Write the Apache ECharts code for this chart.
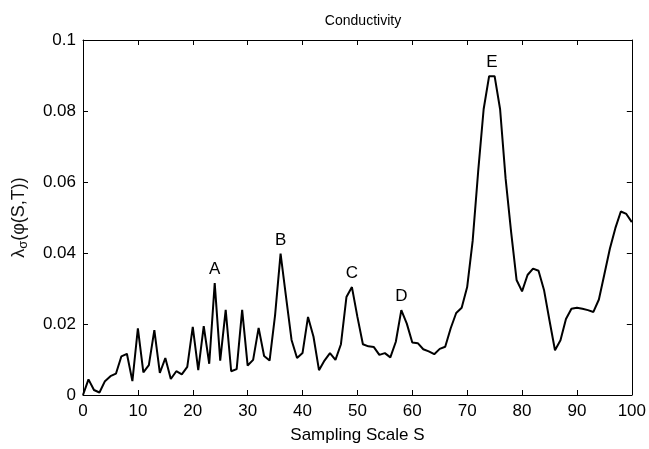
<!DOCTYPE html>
<html>
<head>
<meta charset="utf-8">
<script src="https://cdn.jsdelivr.net/npm/echarts@6/dist/echarts.min.js"></script>
<style>
html,body{margin:0;padding:0;background:#fff;}
#chart{width:649px;height:449px;}
</style>
</head>
<body>
<div id="chart"></div>
<script>
var samplingScale = [0,1,2,3,4,5,6,7,8,9,10,11,12,13,14,15,16,17,18,19,20,21,22,23,24,25,26,27,28,29,30,31,32,33,34,35,36,37,38,39,40,41,42,43,44,45,46,47,48,49,50,51,52,53,54,55,56,57,58,59,60,61,62,63,64,65,66,67,68,69,70,71,72,73,74,75,76,77,78,79,80,81,82,83,84,85,86,87,88,89,90,91,92,93,94,95,96,97,98,99,100];
var conductivity = [0,0.0044,0.0014,0.0007,0.0039,0.0053,0.006,0.0109,0.0116,0.0039,
  0.0188,0.0064,0.0084,0.0183,0.0062,0.0104,0.0045,0.0067,0.0058,0.0079,
  0.0192,0.007,0.0194,0.0088,0.0315,0.0097,0.024,0.0067,0.0073,0.024,
  0.0083,0.0099,0.0189,0.011,0.0097,0.0225,0.0398,0.0276,0.0155,0.0104,
  0.0118,0.022,0.0164,0.007,0.0097,0.0118,0.0099,0.0143,0.0276,0.0304,
  0.022,0.0143,0.0137,0.0135,0.0113,0.0118,0.0106,0.015,0.0239,0.0201,
  0.0148,0.0146,0.0129,0.0123,0.0115,0.013,0.0136,0.0188,0.0231,0.0246,
  0.0304,0.0434,0.0629,0.0805,0.0898,0.0898,0.0805,0.061,0.046,0.0324,
  0.0292,0.0338,0.0356,0.035,0.0296,0.021,0.0126,0.0154,0.0214,0.0243,
  0.0246,0.0243,0.0239,0.0234,0.0269,0.034,0.0412,0.047,0.0517,0.051,0.0487];
var peakNames = ['A','B','C','D','E'];
var peakS = [24,36,49,58,74.5];
var peakValues = [0.0315,0.0398,0.0304,0.0239,0.0898];

var FONT = '"Liberation Sans", Arial, Helvetica, sans-serif';
var chart = echarts.init(document.getElementById('chart'), null, {renderer:'canvas'});
var lineData = samplingScale.map(function(s,i){return [s, conductivity[i]];});
var markData = peakNames.map(function(n,i){return {name:n, coord:[peakS[i], peakValues[i]], value:n};});

function axisCommon(){
  return {
    axisLine:{show:true, onZero:false, lineStyle:{color:'#000', width:1}},
    axisTick:{show:true, inside:true, length:5, lineStyle:{color:'#000', width:1}},
    splitLine:{show:false}
  };
}

chart.setOption({
  animation:false,
  backgroundColor:'#fff',
  title:{
    text:'Conductivity', left:358, top:9, textAlign:'center',
    textStyle:{fontFamily:FONT, fontSize:14, fontWeight:'normal', color:'#000'}
  },
  grid:{left:83, right:16, top:40, bottom:50},
  xAxis:[
    Object.assign({type:'value', position:'bottom', min:0, max:100, interval:10,
      name:'Sampling Scale S', nameLocation:'middle', nameGap:32,
      nameTextStyle:{fontFamily:FONT, fontSize:17, color:'#000'},
      axisLabel:{fontFamily:FONT, fontSize:17, color:'#000', margin:8}}, axisCommon()),
    Object.assign({type:'value', position:'top', min:0, max:100, interval:10,
      axisLabel:{show:false}}, axisCommon())
  ],
  yAxis:[
    Object.assign({type:'value', position:'left', min:0, max:0.1, interval:0.02,
      name:'{a|λ}{s|σ}{a|(φ(S,T))}', nameLocation:'middle', nameGap:53, nameRotate:90,
      nameTextStyle:{fontFamily:FONT, fontSize:18, color:'#111',
        rich:{
          a:{fontFamily:FONT, fontSize:18, color:'#111'},
          s:{fontFamily:FONT, fontSize:13, color:'#111', padding:[8,0,0,0]}
        }},
      axisLabel:{fontFamily:FONT, fontSize:17, color:'#000', margin:7}}, axisCommon()),
    Object.assign({type:'value', position:'right', min:0, max:0.1, interval:0.02,
      axisLabel:{show:false}}, axisCommon())
  ],
  series:[{
    type:'line',
    data:lineData,
    xAxisIndex:0, yAxisIndex:0,
    symbol:'none',
    lineStyle:{color:'#000', width:2},
    markPoint:{
      symbol:'circle', symbolSize:0,
      label:{show:true, position:'top', distance:5, formatter:'{b}',
        fontFamily:FONT, fontSize:17, color:'#000'},
      data:markData
    }
  }]
});
</script>
</body>
</html>
